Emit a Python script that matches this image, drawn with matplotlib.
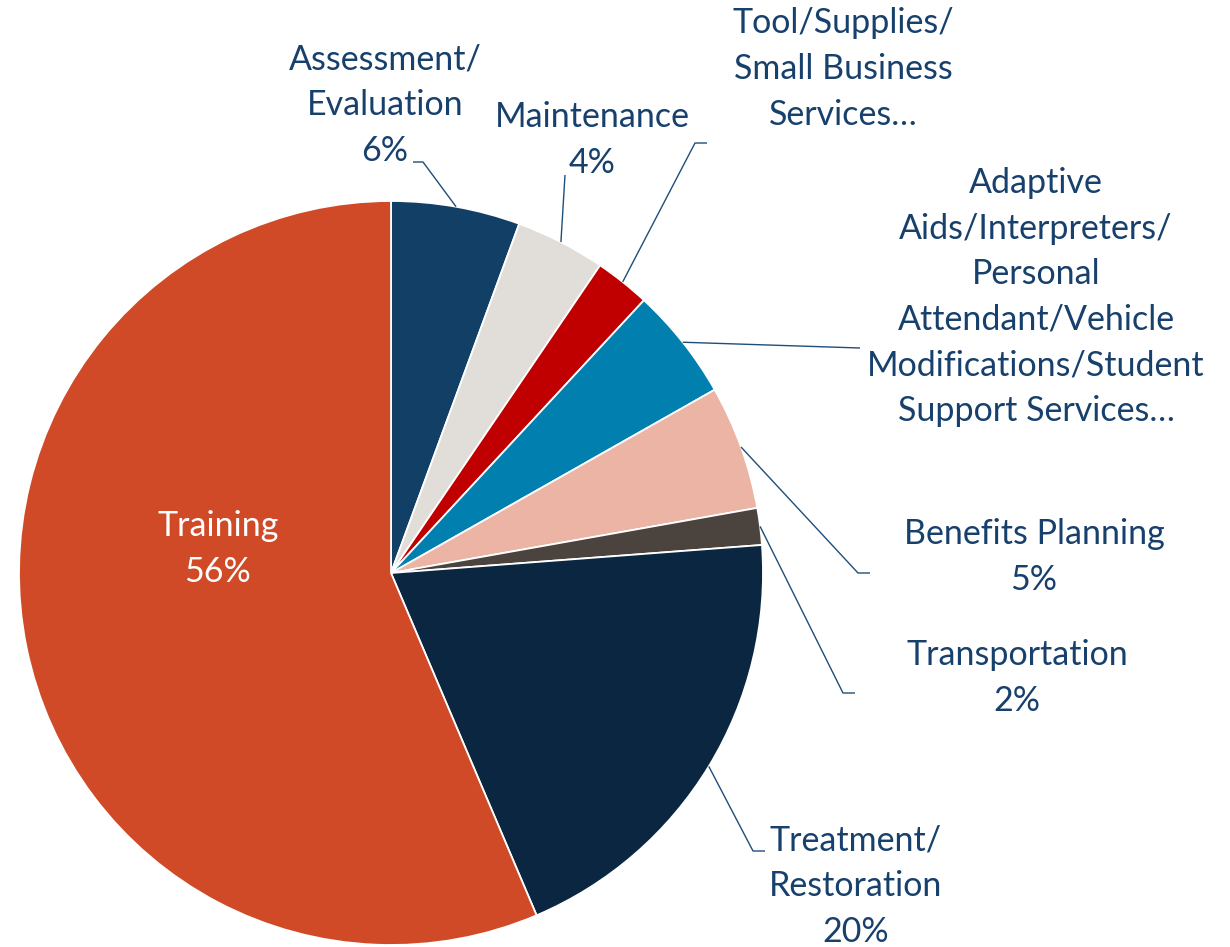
import matplotlib.pyplot as plt
import numpy as np

# slice data, clockwise from 12 o'clock
labels = ["Assessment/\nEvaluation", "Maintenance",
          "Tool/Supplies/\nSmall Business\nServices…",
          "Adaptive\nAids/Interpreters/\nPersonal\nAttendant/Vehicle\nModifications/Student\nSupport Services…",
          "Benefits Planning", "Transportation", "Treatment/\nRestoration", "Training"]
shares = [5.6, 3.9, 2.4, 4.9, 5.4, 1.6, 19.8, 56.4]
show_pct = [True, True, False, False, True, True, True, True]
colors = ["#123F66", "#E1DED9", "#C00000", "#0180B0",
          "#ECB4A5", "#4B433E", "#0A2641", "#D14A27"]

W, H = 1230, 947
TXT = "#17406D"
plt.rcParams['font.family'] = ['Lato', 'DejaVu Sans']

fig = plt.figure(figsize=(W / 100, H / 100), dpi=100)
ax = fig.add_axes([0, 0, 1, 1])

cx, cy, r = 391, 573, 372  # pixel coords (y from top)
wedges, _ = ax.pie(shares, colors=colors, startangle=90, counterclock=False,
                   center=(cx, H - cy), radius=r,
                   wedgeprops=dict(edgecolor="white", linewidth=1.3))
ax.set_xlim(0, W)
ax.set_ylim(0, H)
ax.set_aspect("equal")
ax.axis("off")

# label block centres (pixels from top-left) and leader paths after the wedge point
label_pos = [(385, 105), (592, 140), (843, 69), (1036, 297),
             (1034, 557), (1017, 678), (856, 886), (218, 549)]
leaders = [[(423, 162), (413, 162)],
           [(565, 175)],
           [(695, 143), (707, 143)],
           [(860, 348)],
           [(858, 573), (870, 573)],
           [(843, 693), (855, 693)],
           [(753, 851), (765, 851)],
           None]

for i, w in enumerate(wedges):
    text = labels[i]
    if show_pct[i]:
        text += "\n%d%%" % round(shares[i])
    x, y = label_pos[i]
    col = "white" if i == len(wedges) - 1 else TXT
    ax.text(x, H - y, text, ha="center", va="center", fontsize=24.5,
            color=col, linespacing=1.52)
    if leaders[i] is not None:
        mid = np.deg2rad((w.theta1 + w.theta2) / 2)
        px = [cx + r * np.cos(mid)] + [p[0] for p in leaders[i]]
        py = [H - cy + r * np.sin(mid)] + [H - p[1] for p in leaders[i]]
        ax.plot(px, py, color="#1F4E79", lw=1.0, solid_capstyle="butt")

fig.savefig("out.png", dpi=100)
